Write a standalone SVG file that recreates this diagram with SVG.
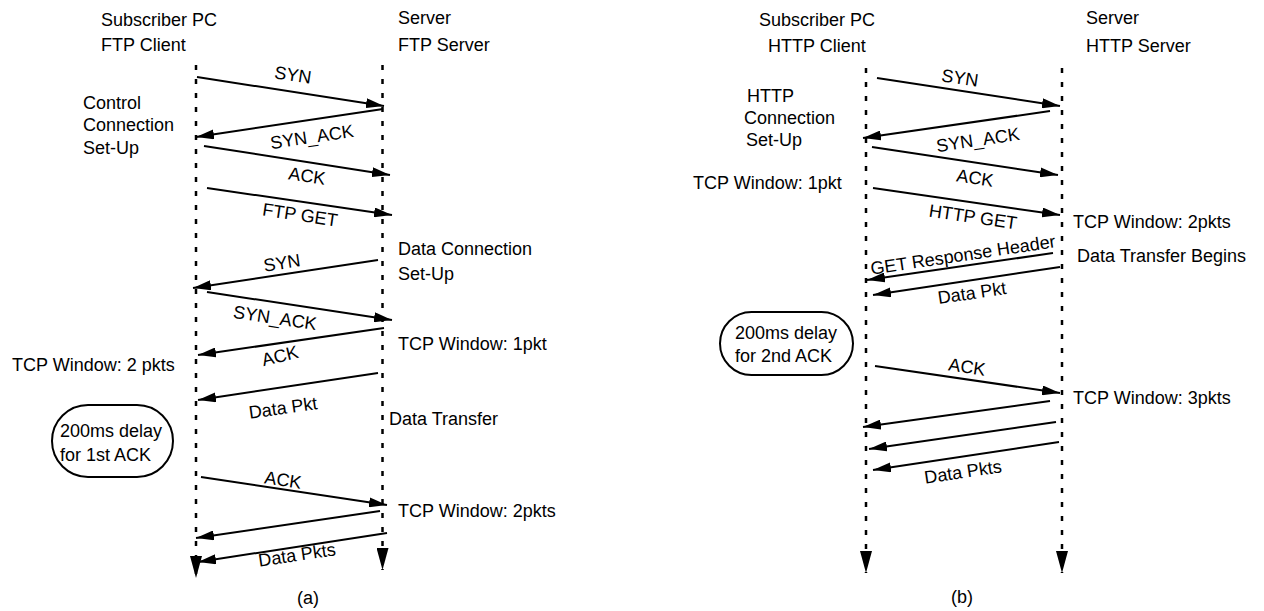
<svg xmlns="http://www.w3.org/2000/svg" width="1264" height="611" viewBox="0 0 1264 611">
  <style>
    text { font-family: "Liberation Sans", Arial, sans-serif; font-size: 18px; fill: #000; }
    .mid { text-anchor: middle; }
    .life { stroke: #000; stroke-width: 2.5; stroke-dasharray: 5 9; fill: none; }
    .msg { stroke: #000; stroke-width: 2; fill: none; marker-end: url(#head); }
    .pill { fill: none; stroke: #000; stroke-width: 2; }
  </style>
  <defs>
    <marker id="head" markerUnits="userSpaceOnUse" markerWidth="18" markerHeight="10" refX="18" refY="5" orient="auto">
      <path d="M0,0 L18,5 L0,10 z" fill="#000"/>
    </marker>
    <marker id="lifehead" markerUnits="userSpaceOnUse" markerWidth="22" markerHeight="12" refX="22" refY="6" orient="auto">
      <path d="M0,0 L22,6 L0,12 z" fill="#000"/>
    </marker>
  </defs>

  <rect width="1264" height="611" fill="#fff"/>

  <!-- (a) FTP exchange -->
  <g id="ftp-client">
    <text x="101" y="26">Subscriber PC</text>
    <text x="101" y="51">FTP Client</text>
    <line class="life" x1="196" y1="65" x2="196" y2="578" marker-end="url(#lifehead)"/>
  </g>
  <g id="ftp-server">
    <text x="398" y="24">Server</text>
    <text x="398" y="51">FTP Server</text>
    <line class="life" x1="382.5" y1="65" x2="382.5" y2="570" marker-end="url(#lifehead)"/>
  </g>
  <g id="ftp-delay-note">
    <rect class="pill" x="52" y="405" width="121" height="72" rx="36" ry="36"/>
    <text x="60" y="437">200ms delay</text>
    <text x="60" y="461">for 1st ACK</text>
  </g>

  <!-- (b) HTTP exchange -->
  <g id="http-client">
    <text x="759" y="26">Subscriber PC</text>
    <text x="768" y="52">HTTP Client</text>
    <line class="life" x1="866" y1="68" x2="866" y2="573" marker-end="url(#lifehead)"/>
  </g>
  <g id="http-server">
    <text x="1086" y="24">Server</text>
    <text x="1086" y="52">HTTP Server</text>
    <line class="life" x1="1062" y1="68" x2="1062" y2="573" marker-end="url(#lifehead)"/>
  </g>
  <g id="http-delay-note">
    <rect class="pill" x="720" y="312" width="133" height="63" rx="31.5" ry="31.5"/>
    <text x="735" y="339">200ms delay</text>
    <text x="735" y="362">for 2nd ACK</text>
  </g>

  <!-- messages -->
  <g id="connectors">
    <line class="msg" x1="197" y1="77" x2="384" y2="106"/>
    <line class="msg" x1="383" y1="109" x2="196" y2="137"/>
    <line class="msg" x1="204" y1="146" x2="390" y2="175"/>
    <line class="msg" x1="207" y1="188" x2="392" y2="215"/>
    <line class="msg" x1="378" y1="260" x2="193" y2="288"/>
    <line class="msg" x1="207" y1="292" x2="392" y2="320"/>
    <line class="msg" x1="384" y1="328" x2="198" y2="355"/>
    <line class="msg" x1="378" y1="373" x2="198" y2="400"/>
    <line class="msg" x1="201" y1="477" x2="387" y2="505"/>
    <line class="msg" x1="380" y1="511" x2="196" y2="538"/>
    <line class="msg" x1="387" y1="533" x2="198" y2="562"/>

    <line class="msg" x1="877" y1="78" x2="1060" y2="106"/>
    <line class="msg" x1="1050" y1="111" x2="863" y2="138"/>
    <line class="msg" x1="872" y1="147" x2="1058" y2="175"/>
    <line class="msg" x1="873" y1="188" x2="1060" y2="215"/>
    <line class="msg" x1="1053" y1="253" x2="867" y2="280"/>
    <line class="msg" x1="1060" y1="267" x2="873" y2="295"/>
    <line class="msg" x1="875" y1="366" x2="1060" y2="393"/>
    <line class="msg" x1="1050" y1="401" x2="863" y2="427"/>
    <line class="msg" x1="1056" y1="422" x2="869" y2="449"/>
    <line class="msg" x1="1059" y1="442" x2="873" y2="470"/>
  </g>

  <!-- message labels -->
  <g id="message-labels">
    <text class="mid" transform="translate(293,75) rotate(8.5)" y="6">SYN</text>
    <text class="mid" transform="translate(312,137) rotate(-8.5)" y="6">SYN_ACK</text>
    <text class="mid" transform="translate(307,176) rotate(8.5)" y="6">ACK</text>
    <text class="mid" transform="translate(300,215) rotate(8.5)" y="6">FTP GET</text>
    <text class="mid" transform="translate(282,263) rotate(-8.5)" y="6">SYN</text>
    <text class="mid" transform="translate(275,318) rotate(8.5)" y="6">SYN_ACK</text>
    <text class="mid" transform="translate(280,356) rotate(-14)" y="6">ACK</text>
    <text class="mid" transform="translate(283,408) rotate(-8)" y="6">Data Pkt</text>
    <text class="mid" transform="translate(283,480) rotate(8.5)" y="6">ACK</text>
    <text class="mid" transform="translate(297,555) rotate(-8.5)" y="6">Data Pkts</text>

    <text class="mid" transform="translate(960,78) rotate(8.5)" y="6">SYN</text>
    <text class="mid" transform="translate(978,140) rotate(-8.5)" y="6">SYN_ACK</text>
    <text class="mid" transform="translate(975,178) rotate(8.5)" y="6">ACK</text>
    <text class="mid" transform="translate(973,217) rotate(8.5)" y="6">HTTP GET</text>
    <text class="mid" transform="translate(963,255) rotate(-8.5)" y="6">GET Response Header</text>
    <text class="mid" transform="translate(972,293) rotate(-8.5)" y="6">Data Pkt</text>
    <text class="mid" transform="translate(967,367) rotate(8.5)" y="6">ACK</text>
    <text class="mid" transform="translate(963,472) rotate(-8.5)" y="6">Data Pkts</text>
  </g>

  <!-- phase and window annotations -->
  <g id="annotations">
    <text x="83" y="109">Control</text>
    <text x="83" y="131">Connection</text>
    <text x="83" y="154">Set-Up</text>
    <text x="398" y="255">Data Connection</text>
    <text x="398" y="280">Set-Up</text>
    <text x="398" y="350">TCP Window: 1pkt</text>
    <text x="12" y="371">TCP Window: 2 pkts</text>
    <text x="389" y="425">Data Transfer</text>
    <text x="398" y="517">TCP Window: 2pkts</text>
    <text class="mid" x="308" y="604">(a)</text>

    <text x="747" y="102">HTTP</text>
    <text x="744" y="124">Connection</text>
    <text x="746" y="146">Set-Up</text>
    <text x="693" y="189">TCP Window: 1pkt</text>
    <text x="1073" y="228">TCP Window: 2pkts</text>
    <text x="1077" y="262">Data Transfer Begins</text>
    <text x="1073" y="404">TCP Window: 3pkts</text>
    <text class="mid" x="962" y="603">(b)</text>
  </g>
</svg>
